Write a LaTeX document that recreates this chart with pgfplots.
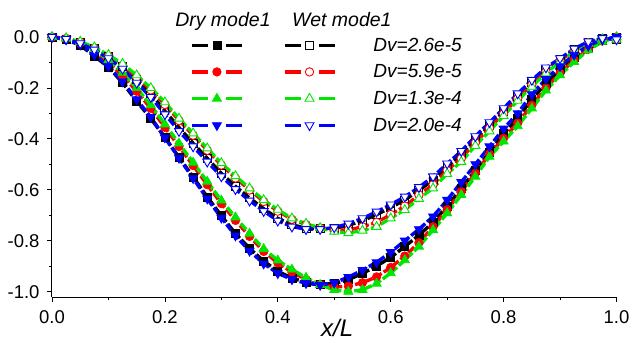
\documentclass[border=0pt]{standalone}
\usepackage{fontspec}
\setmainfont{Liberation Sans}
\usepackage{pgfplots}
\usepackage{pgfplotstable}
\pgfplotsset{compat=1.18}
\definecolor{cgreen}{RGB}{0,230,0}
\pgfplotstableread{
x d1 d2 d3 d4 w1 w2 w3 w4
0 0 0 0 0 0 0 0 0
0.025 -0.01 -0.006 -0.005 -0.01 -0.008 -0.006 -0.005 -0.008
0.05 -0.032 -0.024 -0.02 -0.03 -0.022 -0.02 -0.018 -0.025
0.075 -0.075 -0.058 -0.05 -0.07 -0.045 -0.043 -0.04 -0.05
0.1 -0.118 -0.1 -0.09 -0.115 -0.076 -0.075 -0.07 -0.084
0.125 -0.18 -0.152 -0.14 -0.175 -0.115 -0.112 -0.105 -0.125
0.15 -0.252 -0.213 -0.2 -0.245 -0.168 -0.158 -0.15 -0.18
0.175 -0.32 -0.28 -0.268 -0.315 -0.222 -0.208 -0.2 -0.236
0.2 -0.395 -0.355 -0.343 -0.395 -0.29 -0.265 -0.256 -0.304
0.225 -0.472 -0.43 -0.418 -0.475 -0.355 -0.328 -0.32 -0.37
0.25 -0.55 -0.505 -0.493 -0.555 -0.417 -0.386 -0.378 -0.43
0.275 -0.628 -0.58 -0.568 -0.635 -0.476 -0.445 -0.437 -0.49
0.3 -0.702 -0.654 -0.642 -0.71 -0.535 -0.503 -0.495 -0.548
0.325 -0.772 -0.72 -0.708 -0.78 -0.586 -0.554 -0.546 -0.598
0.35 -0.83 -0.783 -0.772 -0.84 -0.632 -0.601 -0.594 -0.643
0.375 -0.88 -0.842 -0.832 -0.89 -0.674 -0.646 -0.64 -0.684
0.4 -0.92 -0.887 -0.877 -0.928 -0.712 -0.684 -0.678 -0.722
0.425 -0.947 -0.923 -0.913 -0.952 -0.737 -0.716 -0.712 -0.745
0.45 -0.963 -0.952 -0.945 -0.967 -0.75 -0.736 -0.733 -0.755
0.475 -0.97 -0.972 -0.973 -0.974 -0.753 -0.75 -0.75 -0.755
0.5 -0.968 -0.982 -0.993 -0.965 -0.752 -0.758 -0.764 -0.748
0.525 -0.953 -0.978 -1.0 -0.943 -0.74 -0.758 -0.77 -0.733
0.55 -0.928 -0.965 -0.993 -0.915 -0.722 -0.745 -0.76 -0.712
0.575 -0.9 -0.942 -0.968 -0.885 -0.698 -0.728 -0.745 -0.686
0.6 -0.865 -0.905 -0.927 -0.845 -0.67 -0.697 -0.712 -0.658
0.625 -0.823 -0.86 -0.876 -0.8 -0.64 -0.664 -0.679 -0.627
0.65 -0.778 -0.808 -0.823 -0.755 -0.603 -0.62 -0.635 -0.59
0.675 -0.728 -0.745 -0.758 -0.705 -0.562 -0.58 -0.594 -0.548
0.7 -0.664 -0.678 -0.692 -0.64 -0.51 -0.524 -0.537 -0.497
0.725 -0.595 -0.607 -0.62 -0.57 -0.462 -0.477 -0.49 -0.448
0.75 -0.525 -0.535 -0.548 -0.5 -0.403 -0.415 -0.427 -0.39
0.775 -0.452 -0.46 -0.47 -0.43 -0.348 -0.358 -0.37 -0.335
0.8 -0.38 -0.398 -0.41 -0.36 -0.292 -0.3 -0.31 -0.28
0.825 -0.318 -0.338 -0.35 -0.3 -0.233 -0.241 -0.25 -0.222
0.85 -0.245 -0.268 -0.28 -0.225 -0.18 -0.187 -0.195 -0.169
0.875 -0.182 -0.2 -0.21 -0.165 -0.128 -0.135 -0.142 -0.12
0.9 -0.128 -0.142 -0.15 -0.115 -0.09 -0.093 -0.097 -0.084
0.925 -0.08 -0.09 -0.098 -0.07 -0.05 -0.053 -0.057 -0.046
0.95 -0.04 -0.048 -0.052 -0.035 -0.02 -0.023 -0.026 -0.018
0.975 -0.012 -0.016 -0.018 -0.01 -0.006 -0.007 -0.008 -0.005
1 0 0 0 0 -0.01 -0.01 -0.01 -0.01
}\modes
\pgfplotsset{
  dry/.style={line width=3.4bp, dash pattern=on 8bp off 2.5bp},
  wet/.style={line width=3.2bp, dash pattern=on 8bp off 2.5bp},
}
\begin{document}
\begin{tikzpicture}
\begin{axis}[
  scale only axis, width=564.5bp, height=260bp,
  xmin=0, xmax=1, ymin=-1.021, ymax=0,
  axis x line*=bottom, axis y line*=left,
  axis line style={line width=1bp, -},
  xtick={0,0.2,0.4,0.6,0.8,1.0}, minor xtick={0.1,0.3,0.5,0.7,0.9},
  ytick={-1.0,-0.8,-0.6,-0.4,-0.2,0}, minor ytick={-0.9,-0.7,-0.5,-0.3,-0.1},
  tick align=outside, major tick length=5bp, minor tick length=3bp,
  tick style={black, line width=0.8bp},
  tick label style={font=\fontsize{18.5bp}{22bp}\selectfont},
  xticklabel style={/pgf/number format/fixed, /pgf/number format/fixed zerofill, /pgf/number format/precision=1, /pgf/number format/assume math mode=true, yshift=-5bp},
  yticklabel style={/pgf/number format/fixed, /pgf/number format/fixed zerofill, /pgf/number format/precision=1, /pgf/number format/assume math mode=true, xshift=-4bp},
  xlabel={\itshape x/L},
  xlabel style={font=\fontsize{24bp}{28bp}\selectfont, at={(axis description cs:0.5,0)}, anchor=base, yshift=-39bp, xshift=3bp, inner sep=0pt},
  clip=false,
  legend columns=2,
  legend cell align=left,
  legend style={draw=none, fill=none, inner sep=0pt, row sep=0.7bp,
    at={(axis cs:0.2445,0.0196)}, anchor=north west,
    font=\itshape\fontsize{19bp}{22bp}\selectfont},
  legend image code/.code={
    \draw[#1, solid] (0bp,0bp) -- (16bp,0bp) (34bp,0bp) -- (50bp,0bp);
    \draw[#1, solid] plot[only marks] coordinates {(25bp,0bp)};
    \path[draw=none, fill=none] (0bp,-13bp) rectangle (87bp,13bp);
  },
]
\addplot[dry, black, mark=square*, mark size=4bp, mark options={solid, line width=0.8bp, fill=black}] table[x=x, y=d1] {\modes};
\addlegendentry{\mbox{}}
\addplot[wet, black, mark=square, mark size=4bp, mark options={solid, fill=white, line width=0.9bp}] table[x=x, y=w1] {\modes};
\addlegendentry{Dv=2.6e-5}
\addplot[dry, red, mark=*, mark size=4.2bp, mark options={solid, line width=0.8bp, fill=red}] table[x=x, y=d2] {\modes};
\addlegendentry{\mbox{}}
\addplot[wet, red, mark=*, mark size=4.2bp, mark options={solid, fill=white, line width=0.9bp}] table[x=x, y=w2] {\modes};
\addlegendentry{Dv=5.9e-5}
\addplot[dry, cgreen, mark=triangle*, mark size=5.2bp, mark options={solid, line width=0.8bp, fill=cgreen}] table[x=x, y=d3] {\modes};
\addlegendentry{\mbox{}}
\addplot[wet, cgreen, mark=triangle*, mark size=5.2bp, mark options={solid, fill=white, line width=0.9bp}] table[x=x, y=w3] {\modes};
\addlegendentry{Dv=1.3e-4}
\addplot[dry, blue, mark=triangle*, mark size=5.2bp, mark options={solid, line width=0.8bp, fill=blue, rotate=180}] table[x=x, y=d4] {\modes};
\addlegendentry{\mbox{}}
\addplot[wet, blue, mark=triangle*, mark size=5.2bp, mark options={solid, fill=white, line width=0.9bp, rotate=180}] table[x=x, y=w4] {\modes};
\addlegendentry{Dv=2.0e-4}
\node[anchor=base west, inner sep=0pt, font=\itshape\fontsize{19.5bp}{22bp}\selectfont] at (axis cs:0.2180,0.0404) {Dry mode1};
\node[anchor=base west, inner sep=0pt, font=\itshape\fontsize{19.5bp}{22bp}\selectfont] at (axis cs:0.4252,0.0404) {Wet mode1};
\end{axis}
\pgfresetboundingbox
\path[use as bounding box] (current axis.south west) ++(-52bp,-46bp) rectangle ++(632bp,343bp);
\end{tikzpicture}
\end{document}
